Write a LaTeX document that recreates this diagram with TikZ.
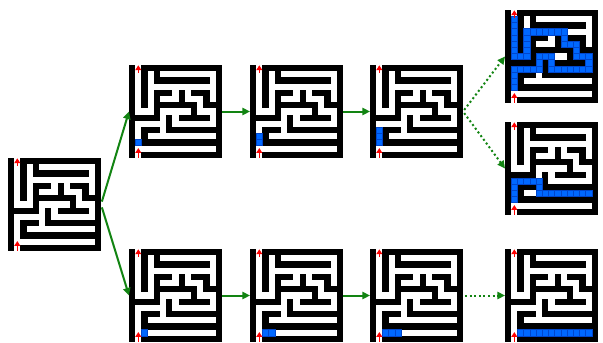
\documentclass[tikz,border=0pt]{standalone}
\usepackage{xcolor}
\usetikzlibrary{arrows.meta}

\definecolor{walkblue}{RGB}{0,104,255}
\definecolor{walkedge}{RGB}{0,70,205}
\definecolor{stepgreen}{RGB}{18,132,18}

\newcommand{\mazewalls}{%
  \fill[black] (0,0) rectangle (15,15);
  \foreach \c in {1,3,...,13}
    \foreach \r in {1,3,...,13}
      \fill[white] (\c,\r) rectangle ++(1,1);
  \foreach \c/\r in {1/0,1/14,1/2,1/4,1/6,1/10,1/12,2/7,2/9,2/13,3/2,3/4,3/6,
      4/3,4/9,4/11,4/13,5/8,5/10,6/1,6/3,6/5,6/7,6/11,6/13,7/4,7/8,
      8/1,8/3,8/7,8/9,8/11,8/13,9/4,10/1,10/3,10/5,10/9,10/11,10/13,
      11/6,12/1,12/3,12/7,12/9,12/11,12/13,13/2,13/4,13/8}
    \fill[white] (\c,\r) rectangle ++(1,1);
}
\newcommand{\mazemarks}{%
  \draw[entry] (1.5,1.3) -- (1.5,0.05);
  \draw[entry] (1.5,14.95) -- (1.5,13.4);
}
\newcommand{\walk}[1]{%
  \foreach \c/\r in {#1}
    \filldraw[walkcell] (\c,\r) rectangle ++(1,1);
}

\begin{document}
\begin{tikzpicture}[x=0.5pt,y=-0.5pt,
  maze/.style={minimum size=46.5pt,inner sep=0pt,outer sep=0pt},
  walkcell/.style={fill=walkblue,draw=walkedge,line width=0.15pt},
  entry/.style={red,line width=0.75pt,-{Triangle[length=2.4pt,width=2.9pt]}},
  solidlink/.style={stepgreen,line width=1pt,-{Triangle[length=3.8pt,width=3.6pt]}},
  dotlink/.style={solidlink,dash pattern=on 1pt off 1.3pt}]
\useasboundingbox (0,0) rectangle (603,342);

\node[maze] (m0) at (54.5,204.5) {};
\node[maze] (t1) at (175.5,111.5) {};
\node[maze] (t2) at (296.5,111.5) {};
\node[maze] (t3) at (416.5,111.5) {};
\node[maze] (tr) at (551.5,56.5) {};
\node[maze] (mr) at (551.5,168.5) {};
\node[maze] (b1) at (175.5,295.5) {};
\node[maze] (b2) at (296.5,295.5) {};
\node[maze] (b3) at (416.5,295.5) {};
\node[maze] (br) at (551.5,295.5) {};

\begin{scope}[shift={(m0.north west)},scale=6.2]
  \mazewalls \mazemarks
\end{scope}
\begin{scope}[shift={(t1.north west)},scale=6.2]
  \mazewalls \walk{1/12} \mazemarks
\end{scope}
\begin{scope}[shift={(t2.north west)},scale=6.2]
  \mazewalls \walk{1/11,1/12} \mazemarks
\end{scope}
\begin{scope}[shift={(t3.north west)},scale=6.2]
  \mazewalls \walk{1/10,1/11,1/12} \mazemarks
\end{scope}
\begin{scope}[shift={(tr.north west)},scale=6.2]
  \mazewalls
  \walk{1/1,1/2,1/3,1/4,1/5,1/6,1/7,2/7,3/7,3/6,3/5,3/4,3/3,4/3,5/3,6/3,
    7/3,8/3,9/3,9/4,9/5,10/5,11/5,11/6,11/7,12/7,13/7,13/8,13/9,12/9,
    11/9,10/9,9/9,8/9,7/9,7/8,7/7,6/7,5/7,5/8,5/9,4/9,3/9,2/9,1/9,
    1/10,1/11,1/12}
  \mazemarks
\end{scope}
\begin{scope}[shift={(mr.north west)},scale=6.2]
  \mazewalls
  \walk{1/9,1/10,1/11,1/12,2/9,3/9,4/9,5/9,5/10,5/11,6/11,7/11,8/11,
    9/11,10/11,11/11,12/11,13/11}
  \mazemarks
\end{scope}
\begin{scope}[shift={(b1.north west)},scale=6.2]
  \mazewalls \walk{2/13} \mazemarks
\end{scope}
\begin{scope}[shift={(b2.north west)},scale=6.2]
  \mazewalls \walk{2/13,3/13} \mazemarks
\end{scope}
\begin{scope}[shift={(b3.north west)},scale=6.2]
  \mazewalls \walk{2/13,3/13,4/13} \mazemarks
\end{scope}
\begin{scope}[shift={(br.north west)},scale=6.2]
  \mazewalls
  \walk{2/13,3/13,4/13,5/13,6/13,7/13,8/13,9/13,10/13,11/13,12/13,13/13}
  \mazemarks
\end{scope}

\draw[solidlink,shorten <=1.5pt] (m0.east) -- (t1.west);
\draw[solidlink,shorten <=1.5pt] (m0.east) -- (b1.west);
\draw[solidlink] (t1.east) -- (t2.west);
\draw[solidlink] (t2.east) -- (t3.west);
\draw[solidlink] (b1.east) -- (b2.west);
\draw[solidlink] (b2.east) -- (b3.west);
\draw[dotlink,shorten <=1pt] (t3.east) -- (tr.west);
\draw[dotlink,shorten <=1pt] (t3.east) -- (mr.west);
\draw[dotlink,shorten <=1pt] (b3.east) -- (br.west);
\end{tikzpicture}
\end{document}
